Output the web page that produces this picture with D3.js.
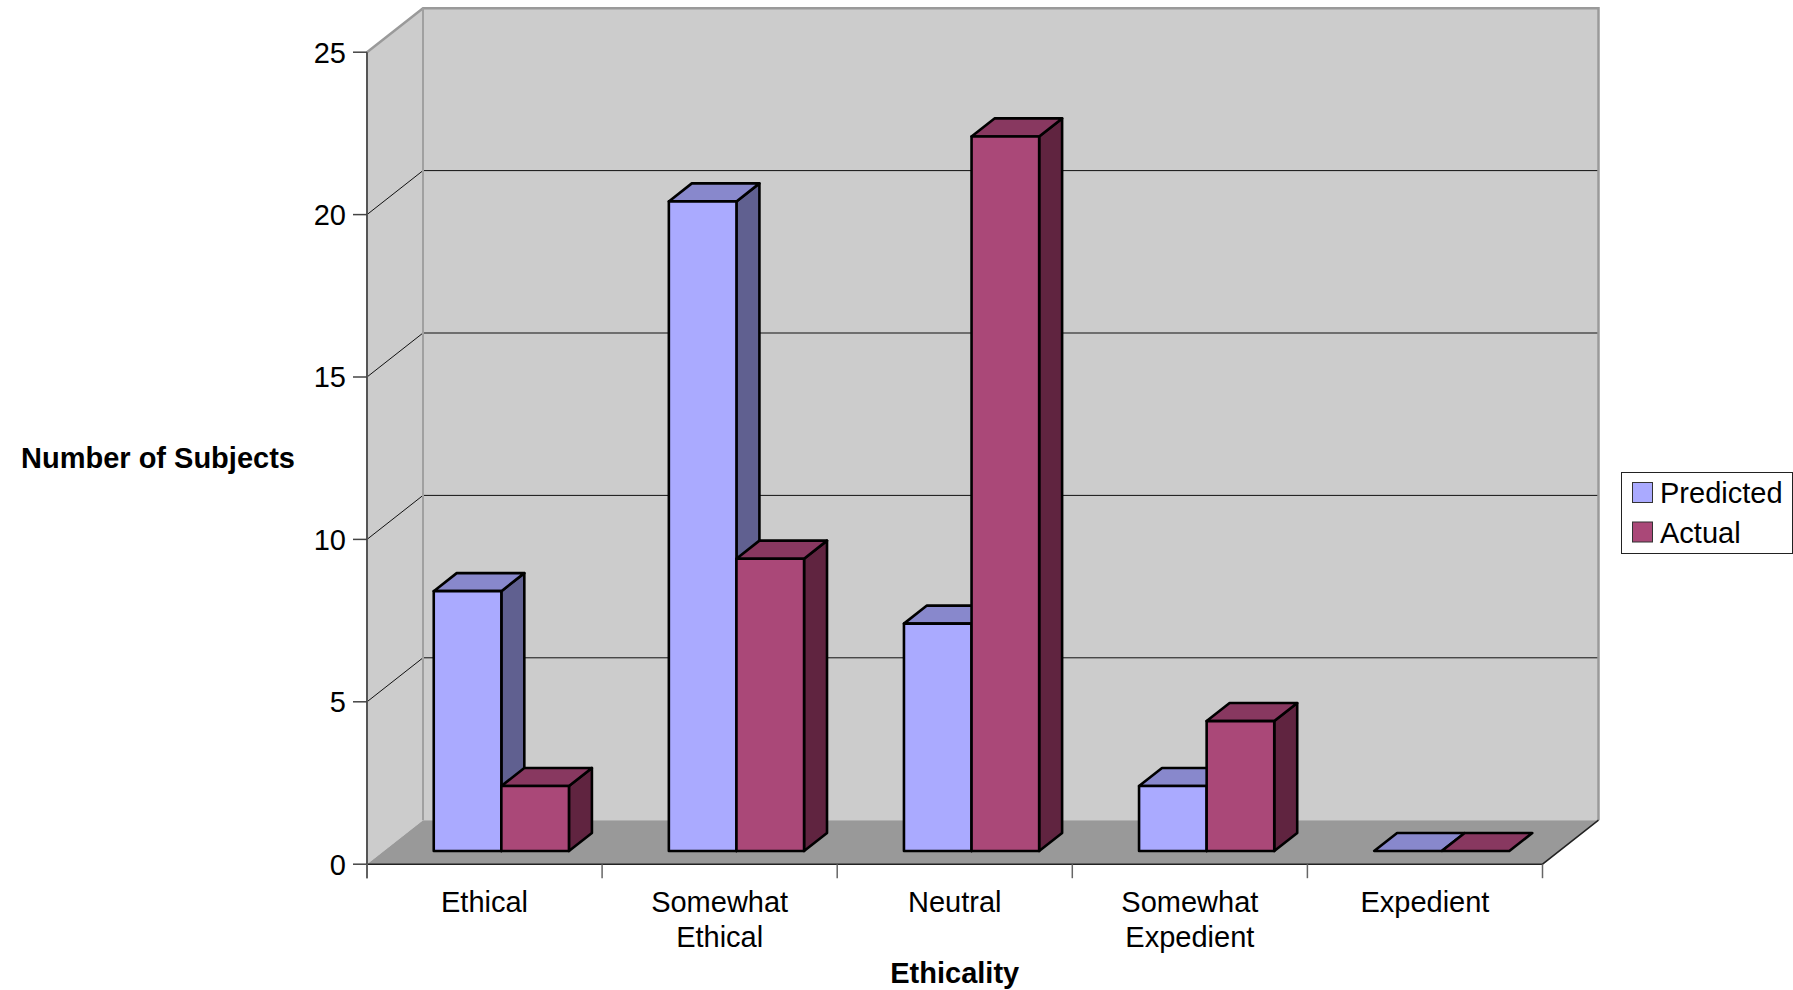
<!DOCTYPE html>
<html>
<head>
<meta charset="utf-8">
<script src="https://cdn.jsdelivr.net/npm/d3@7"></script>
<style>
  html, body { margin: 0; padding: 0; background: #ffffff; }
  svg { display: block; }
  text { font-family: "Liberation Sans", Arial, sans-serif; fill: #000; }
</style>
</head>
<body>
<svg id="chart" width="1793" height="990"></svg>
<script>
// ---- data ----
const categories = ["Ethical", "Somewhat Ethical", "Neutral", "Somewhat Expedient", "Expedient"];
const categoryLines = [["Ethical"], ["Somewhat", "Ethical"], ["Neutral"], ["Somewhat", "Expedient"], ["Expedient"]];
const seriesNames = ["Predicted", "Actual"];
const predicted = [8, 20, 7, 2, 0];
const actual = [2, 9, 22, 4, 0];
const yTicks = [0, 5, 10, 15, 20, 25];
const yTitle = "Number of Subjects";
const xTitle = "Ethicality";

// ---- styles ----
const faceColors = {
  Predicted: { front: "#aaaaff", top: "#8888cc", side: "#606090" },
  Actual:    { front: "#aa4878", top: "#883860", side: "#602440" }
};

const svg = d3.select("#chart");
const FONT = 29;

// ---- geometry ----
const left = 367, right = 1542.5, bottom = 864.2, topY = 52.2;
const DX = 56, DY = -44;          // full depth of the box
const t0 = 0.30, t1 = 0.71;       // bar depth range as fraction of box depth

const x = d3.scaleBand().domain(categories).range([left, right]).padding(0);
const y = d3.scaleLinear().domain([0, 25]).range([bottom, topY]);
const barW = 67.6;
const xs = d3.scaleBand().domain(seriesNames).range([-barW, barW]).padding(0);

const walls = svg.append("g");
// side wall
walls.append("polygon")
  .attr("points", [[left, y(25)], [left + DX, y(25) + DY], [left + DX, y(0) + DY], [left, y(0)]].join(" "))
  .attr("fill", "#cccccc");
// back wall
walls.append("rect")
  .attr("x", left + DX).attr("y", y(25) + DY)
  .attr("width", right - left).attr("height", y(0) - y(25))
  .attr("fill", "#cccccc");
// floor
walls.append("polygon")
  .attr("points", [[left, y(0)], [left + DX, y(0) + DY], [right + DX, y(0) + DY], [right, y(0)]].join(" "))
  .attr("fill", "#999999");

// gridlines
const gridVals = yTicks.filter(v => v > 0 && v < 25);
walls.selectAll("line.gb").data(gridVals).enter().append("line")
  .attr("x1", left + DX).attr("x2", right + DX)
  .attr("y1", d => y(d) + DY).attr("y2", d => y(d) + DY)
  .attr("stroke", "#111").attr("stroke-width", 1);
walls.selectAll("line.gs").data(gridVals).enter().append("line")
  .attr("x1", left).attr("x2", left + DX)
  .attr("y1", d => y(d)).attr("y2", d => y(d) + DY)
  .attr("stroke", "#111").attr("stroke-width", 1);

// wall edges (gray)
walls.append("path")
  .attr("d", `M${left},${y(25)} L${left + DX},${y(25) + DY} L${right + DX},${y(25) + DY} L${right + DX},${y(0) + DY}`)
  .attr("fill", "none").attr("stroke", "#9a9a9a").attr("stroke-width", 2.5);
walls.append("line")
  .attr("x1", left + DX).attr("x2", left + DX)
  .attr("y1", y(25) + DY).attr("y2", y(0) + DY)
  .attr("stroke", "#a0a0a0").attr("stroke-width", 2);
// floor front edge and right diagonal
walls.append("path")
  .attr("d", `M${left},${y(0)} L${right},${y(0)} L${right + DX},${y(0) + DY}`)
  .attr("fill", "none").attr("stroke", "#222").attr("stroke-width", 1.5);
// y axis line
walls.append("line")
  .attr("x1", left).attr("x2", left).attr("y1", y(25)).attr("y2", y(0) + 14)
  .attr("stroke", "#555").attr("stroke-width", 2);

// y ticks + labels
const yAxis = svg.append("g");
yAxis.selectAll("line").data(yTicks).enter().append("line")
  .attr("x1", left - 14).attr("x2", left)
  .attr("y1", d => y(d)).attr("y2", d => y(d))
  .attr("stroke", "#444").attr("stroke-width", 1.5);
yAxis.selectAll("text").data(yTicks).enter().append("text")
  .attr("x", left - 21).attr("y", d => y(d)).attr("dy", "0.36em")
  .attr("text-anchor", "end").attr("font-size", FONT)
  .text(d => d);

// x ticks
const xBounds = categories.map(c => x(c)).concat([right]);
svg.append("g").selectAll("line").data(xBounds).enter().append("line")
  .attr("x1", d => d).attr("x2", d => d)
  .attr("y1", y(0)).attr("y2", y(0) + 14)
  .attr("stroke", "#666").attr("stroke-width", 1.5);

// x labels
const xl = svg.append("g");
categories.forEach((c, i) => {
  const t = xl.append("text")
    .attr("x", x(c) + x.bandwidth() / 2).attr("y", 912)
    .attr("text-anchor", "middle").attr("font-size", FONT);
  categoryLines[i].forEach((ln, j) => {
    t.append("tspan").attr("x", x(c) + x.bandwidth() / 2).attr("dy", j === 0 ? 0 : 35).text(ln);
  });
});

// bars
const bars = svg.append("g");
const data = [];
categories.forEach((c, i) => {
  data.push({ cat: c, s: "Predicted", v: predicted[i] });
  data.push({ cat: c, s: "Actual", v: actual[i] });
});
const f0x = t0 * DX, f0y = t0 * DY;
const bdx = (t1 - t0) * DX, bdy = (t1 - t0) * DY;
data.forEach(d => {
  const cx = x(d.cat) + x.bandwidth() / 2;
  const x0 = cx + xs(d.s) + f0x;
  const x1 = x0 + xs.bandwidth();
  const yt = y(d.v) + f0y;
  const yb = y(0) + f0y;
  const col = faceColors[d.s];
  const g = bars.append("g")
    .attr("stroke", "#000").attr("stroke-width", 2.6).attr("stroke-linejoin", "round");
  if (d.v > 0) {
    g.append("polygon")
      .attr("points", [[x1, yt], [x1 + bdx, yt + bdy], [x1 + bdx, yb + bdy], [x1, yb]].join(" "))
      .attr("fill", col.side);
  }
  g.append("polygon")
    .attr("points", [[x0, yt], [x1, yt], [x1 + bdx, yt + bdy], [x0 + bdx, yt + bdy]].join(" "))
    .attr("fill", col.top);
  if (d.v > 0) {
    g.append("rect")
      .attr("x", x0).attr("y", yt).attr("width", x1 - x0).attr("height", yb - yt)
      .attr("fill", col.front);
  }
});

// axis titles
svg.append("text")
  .attr("x", 21).attr("y", 468)
  .attr("font-size", FONT).attr("font-weight", "bold")
  .text(yTitle);
svg.append("text")
  .attr("x", (left + right) / 2).attr("y", 983)
  .attr("text-anchor", "middle")
  .attr("font-size", FONT).attr("font-weight", "bold")
  .text(xTitle);

// legend
const lg = svg.append("g");
lg.append("rect")
  .attr("x", 1621.5).attr("y", 472.5).attr("width", 171).attr("height", 81)
  .attr("fill", "#fff").attr("stroke", "#222").attr("stroke-width", 1);
seriesNames.forEach((s, i) => {
  lg.append("rect")
    .attr("x", 1632.5).attr("y", 482.5 + i * 39.5).attr("width", 20).attr("height", 20)
    .attr("fill", faceColors[s].front).attr("stroke", "#333").attr("stroke-width", 1);
  lg.append("text")
    .attr("x", 1660).attr("y", 503 + i * 39.5)
    .attr("font-size", FONT).text(s);
});
</script>
</body>
</html>
